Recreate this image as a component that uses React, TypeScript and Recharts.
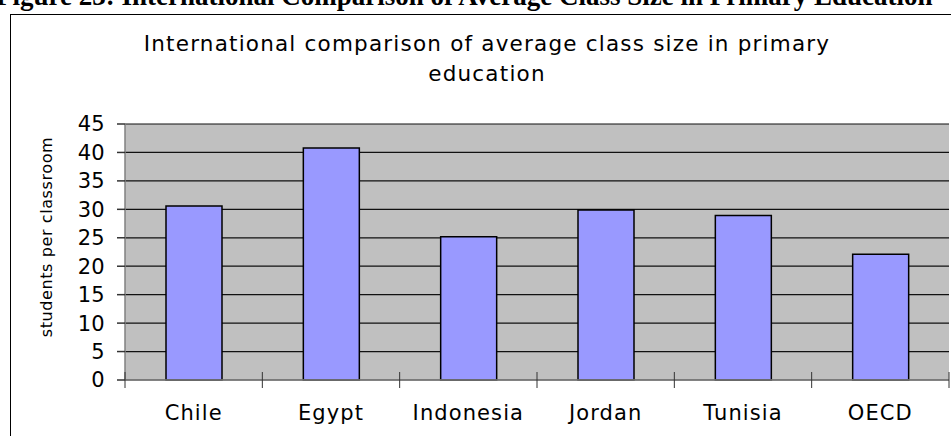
import React from 'react';
import { BarChart, Bar, XAxis, YAxis, CartesianGrid } from 'recharts';

// values
const countries = ['Chile', 'Egypt', 'Indonesia', 'Jordan', 'Tunisia', 'OECD'];
const classSize = [30.6, 40.8, 25.2, 29.9, 28.9, 22.1];
const yTicks = [0, 5, 10, 15, 20, 25, 30, 35, 40, 45];

const data = countries.map((c, i) => ({ country: c, size: classSize[i] }));

const W = 951;
const H = 436;
const MARGIN = { top: 124, right: 2, left: 10, bottom: 16 };
const Y_AXIS_W = 115;
const PLOT_W = W - MARGIN.left - MARGIN.right - Y_AXIS_W;
const BAND = PLOT_W / countries.length;

function CountryTick(props: any) {
  const { x, y, payload, index } = props;
  const left = x - BAND / 2;
  const right = x + BAND / 2;
  return (
    <g>
      <line x1={left} x2={left} y1={y - 8} y2={y + 8} stroke="#333" strokeWidth={1} />
      {index === countries.length - 1 && (
        <line x1={right} x2={right} y1={y - 8} y2={y + 8} stroke="#333" strokeWidth={1} />
      )}
      <text
        x={x}
        y={y + 40}
        textAnchor="middle"
        fill="#000"
        style={{ fontFamily: 'DejaVu Sans', fontSize: 21, letterSpacing: 1.1 }}
      >
        {payload.value}
      </text>
    </g>
  );
}

function YLabel() {
  const cx = 46;
  const cy = 237;
  return (
    <text
      x={cx}
      y={cy}
      transform={`rotate(-90 ${cx} ${cy})`}
      textAnchor="middle"
      dominantBaseline="central"
      fill="#000"
      style={{ fontFamily: 'DejaVu Sans', fontSize: 16, letterSpacing: 0.6 }}
    >
      students per classroom
    </text>
  );
}

export default function App() {
  return (
    <div
      style={{
        position: 'absolute',
        left: 0,
        top: 0,
        width: W,
        height: H,
        overflow: 'hidden',
        background: '#fff',
      }}
    >
      {/* cut-off report heading above the chart frame */}
      <div
        style={{
          position: 'absolute',
          left: -4,
          top: -19,
          whiteSpace: 'nowrap',
          fontFamily: 'Liberation Serif',
          fontWeight: 'bold',
          fontSize: 27,
          color: '#000',
        }}
      >
        Figure 23: International Comparison of Average Class Size in Primary Education
      </div>
      {/* chart frame */}
      <div
        style={{
          position: 'absolute',
          left: 10,
          top: 14,
          width: 980,
          height: 460,
          border: '1px solid #000',
        }}
      />
      <div
        style={{
          position: 'absolute',
          left: 0,
          width: 974,
          top: 29,
          textAlign: 'center',
          fontFamily: 'DejaVu Sans',
          fontSize: 21.5,
          letterSpacing: 1.2,
          lineHeight: '30px',
          color: '#000',
        }}
      >
        International comparison of average class size in primary
        <br />
        education
      </div>
      <div style={{ position: 'absolute', left: 0, top: 0 }}>
        <BarChart width={W} height={H} data={data} margin={MARGIN} barSize={56}>
          <CartesianGrid vertical={false} fill="#C0C0C0" stroke="#111" strokeWidth={1.2} />
          <XAxis
            dataKey="country"
            height={40}
            stroke="#808080"
            strokeWidth={1.5}
            tickLine={false}
            tickSize={0}
            tickMargin={0}
            tick={<CountryTick />}
            interval={0}
          />
          <XAxis
            xAxisId="top"
            orientation="top"
            dataKey="country"
            height={0}
            tick={false}
            tickLine={false}
            stroke="#808080"
            strokeWidth={1.5}
          />
          <YAxis
            domain={[0, 45]}
            ticks={yTicks}
            width={Y_AXIS_W}
            interval={0}
            stroke="#808080"
            strokeWidth={1.5}
            tickSize={8}
            tickMargin={12}
            tickLine={{ stroke: '#333' }}
            tick={{ fill: '#000', fontFamily: 'DejaVu Sans', fontSize: 21, letterSpacing: 0.3 }}
            label={<YLabel />}
          />
          <YAxis
            yAxisId="right"
            orientation="right"
            width={0}
            tick={false}
            tickLine={false}
            stroke="#808080"
            strokeWidth={1.5}
          />
          <Bar
            dataKey="size"
            fill="#9999FF"
            stroke="#000"
            strokeWidth={1.5}
            isAnimationActive={false}
          />
        </BarChart>
      </div>
    </div>
  );
}
